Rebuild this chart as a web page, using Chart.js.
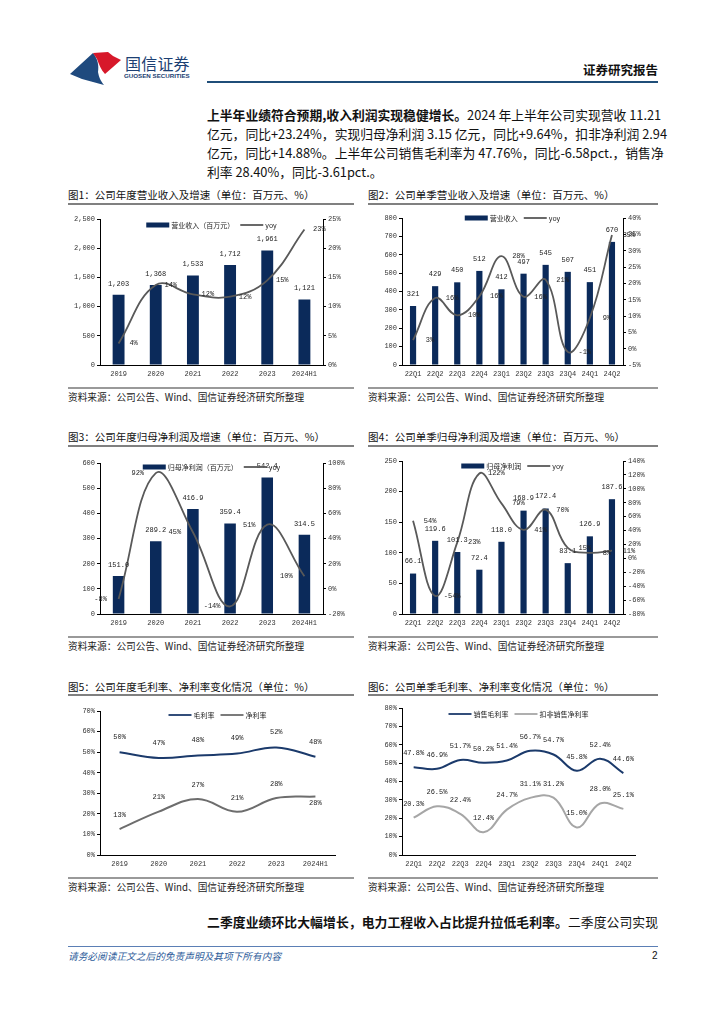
<!DOCTYPE html>
<html>
<head>
<meta charset="utf-8">
<script src="https://cdn.jsdelivr.net/npm/chart.js@4.4.1/dist/chart.umd.min.js"></script>
<style>
body { margin: 0; width: 724px; height: 1024px; position: relative; overflow: hidden; background: #fff; font-family: "Noto Sans CJK SC", sans-serif; color: #111; }
.t { position: absolute; white-space: nowrap; }
.rule { position: absolute; }
canvas { position: absolute; }
.pl { position: absolute; left: 207px; width: 451px; font-size: 12.8px; line-height: 19px; text-align: justify; text-align-last: justify; white-space: nowrap; }
.title { position: absolute; font-size: 10.5px; line-height: 12px; white-space: nowrap; color: #111; }
.src { position: absolute; font-size: 9.7px; line-height: 11px; white-space: nowrap; color: #222; }
</style>
</head>
<body>

<!-- header -->
<svg class="t" style="left:0;top:0" width="724" height="100">
  <path d="M70,74 L93,53 C98,59 99,66 98,72 C99,77 100,80 104,85 L82,79 Z" fill="#1f4a7e"/>
  <path d="M93,53 L108,52 L113,56 L121,60 L105,74 C101,70 99,64 97,59 Z" fill="#d7182a"/>
</svg>
<div class="t" style="left:125px;top:55px;font-size:16px;line-height:16px;color:#1c3f73;letter-spacing:0.2px">国信证券</div>
<div class="t" style="left:124px;top:72px;font-family:'Liberation Sans';font-weight:bold;font-size:6.2px;line-height:8px;color:#1c3f73">GUOSEN SECURITIES</div>
<div class="t" style="right:66px;top:63px;font-size:12.5px;line-height:14px;font-weight:bold">证券研究报告</div>
<div class="rule" style="left:207px;top:81px;width:451px;height:2px;background:#1f4e79"></div>

<!-- paragraph -->
<div class="pl" style="top:105px"><b>上半年业绩符合预期,收入利润实现稳健增长。</b>2024 年上半年公司实现营收 11.21</div>
<div class="pl" style="top:124px">亿元，同比+23.24%，实现归母净利润 3.15 亿元，同比+9.64%，扣非净利润 2.94</div>
<div class="pl" style="top:143px">亿元，同比+14.88%。上半年公司销售毛利率为 47.76%，同比-6.58pct.，销售净</div>
<div class="pl" style="top:162px;text-align-last:left">利率 28.40%，同比-3.61pct.。</div>

<!-- row 1 -->
<div class="title" style="left:68px;top:189px">图1：公司年度营业收入及增速（单位：百万元、%）</div>
<div class="rule" style="left:68px;top:203px;width:286px;height:1.5px;background:#808080"></div>
<div class="title" style="left:368px;top:189px">图2：公司单季营业收入及增速（单位：百万元、%）</div>
<div class="rule" style="left:368px;top:203px;width:290px;height:1.5px;background:#808080"></div>
<canvas id="c1" width="300" height="180" style="left:60px;top:205px"></canvas>
<canvas id="c2" width="300" height="180" style="left:360px;top:205px"></canvas>
<div class="rule" style="left:68px;top:387px;width:286px;height:1.5px;background:#999"></div>
<div class="rule" style="left:368px;top:387px;width:290px;height:1.5px;background:#999"></div>
<div class="src" style="left:68px;top:392px">资料来源：公司公告、Wind、国信证券经济研究所整理</div>
<div class="src" style="left:368px;top:392px">资料来源：公司公告、Wind、国信证券经济研究所整理</div>

<!-- row 2 -->
<div class="title" style="left:68px;top:431px">图3：公司年度归母净利润及增速（单位：百万元、%）</div>
<div class="rule" style="left:68px;top:445px;width:286px;height:1.5px;background:#808080"></div>
<div class="title" style="left:368px;top:431px">图4：公司单季归母净利润及增速（单位：百万元、%）</div>
<div class="rule" style="left:368px;top:445px;width:290px;height:1.5px;background:#808080"></div>
<canvas id="c3" width="300" height="190" style="left:60px;top:445px"></canvas>
<canvas id="c4" width="300" height="190" style="left:360px;top:445px"></canvas>
<div class="rule" style="left:68px;top:636px;width:286px;height:1.5px;background:#999"></div>
<div class="rule" style="left:368px;top:636px;width:290px;height:1.5px;background:#999"></div>
<div class="src" style="left:68px;top:641px">资料来源：公司公告、Wind、国信证券经济研究所整理</div>
<div class="src" style="left:368px;top:641px">资料来源：公司公告、Wind、国信证券经济研究所整理</div>

<!-- row 3 -->
<div class="title" style="left:68px;top:681px">图5：公司年度毛利率、净利率变化情况（单位：%）</div>
<div class="rule" style="left:68px;top:694px;width:286px;height:1.5px;background:#808080"></div>
<div class="title" style="left:368px;top:681px">图6：公司单季毛利率、净利率变化情况（单位：%）</div>
<div class="rule" style="left:368px;top:694px;width:290px;height:1.5px;background:#808080"></div>
<canvas id="c5" width="300" height="180" style="left:60px;top:695px"></canvas>
<canvas id="c6" width="300" height="180" style="left:360px;top:695px"></canvas>
<div class="rule" style="left:68px;top:877px;width:286px;height:1.5px;background:#999"></div>
<div class="rule" style="left:368px;top:877px;width:290px;height:1.5px;background:#999"></div>
<div class="src" style="left:68px;top:882px">资料来源：公司公告、Wind、国信证券经济研究所整理</div>
<div class="src" style="left:368px;top:882px">资料来源：公司公告、Wind、国信证券经济研究所整理</div>

<!-- footer -->
<div class="pl" style="top:912px"><b>二季度业绩环比大幅增长，电力工程收入占比提升拉低毛利率。</b>二季度公司实现</div>
<div class="rule" style="left:68px;top:946px;width:590px;height:1px;background:#5b7fb5"></div>
<div class="t" style="left:68px;top:950px;font-size:9.7px;line-height:12px;font-style:italic;color:#2e5c9a">请务必阅读正文之后的免责声明及其项下所有内容</div>
<div class="t" style="left:652px;top:950px;font-size:10px;line-height:12px;font-family:'Liberation Sans'">2</div>

<script>
// ====================================================
// Data
// ====================================================
const yearLabels = ['2019', '2020', '2021', '2022', '2023', '2024H1'];
const quarterLabels = ['22Q1', '22Q2', '22Q3', '22Q4', '23Q1', '23Q2', '23Q3', '23Q4', '24Q1', '24Q2'];

const revenueYear = [1203, 1368, 1533, 1712, 1961, 1121];
const revenueYearYoy = [3.7, 13.7, 12.1, 11.7, 14.5, 23.2];

const revenueQuarter = [321, 429, 450, 512, 412, 497, 545, 507, 451, 670];
const revenueQuarterYoy = [2.6, 15.5, 10.2, 16.0, 28.3, 15.9, 21.1, -1.0, 9.4, 34.8];

const profitYear = [151.0, 289.2, 416.9, 359.4, 542.4, 314.5];
const profitYearYoy = [-8, 92, 45, -14, 51, 10];

const profitQuarter = [66.1, 119.6, 101.3, 72.4, 118.0, 168.9, 172.4, 83.1, 126.9, 187.6];
const profitQuarterYoy = [54, -54, 23, 122, 79, 41, 70, 15, 8, 11];

const grossYear = [50.0, 47.2, 48.4, 49.3, 52.3, 47.8];
const netYear = [12.6, 21.1, 27.2, 21.0, 27.7, 28.4];

const grossQuarter = [47.8, 46.9, 51.7, 50.2, 51.4, 56.7, 54.7, 45.8, 52.4, 44.6];
const netQuarter = [20.3, 26.5, 22.4, 12.4, 24.7, 31.1, 31.2, 15.0, 28.0, 25.1];

// ====================================================
// Styles
// ====================================================
const NAVY = '#0b2a5a';
const LINE_GREY = '#595959';
const TICK_FONT = { family: 'Liberation Mono', size: 7 };

const fmtComma = v => Number(v).toLocaleString('en-US');
const fmtPct = v => Math.round(v) + '%';
const fmtPct1 = v => v.toFixed(1) + '%';
const fmtDec1 = v => v.toFixed(1);
const fmtInt = v => String(v);

// labels + legend per canvas (kept out of Chart options so functions are not resolved as scriptable)
const labelConfigs = {};

const pageLabels = {
    id: 'pageLabels',
    afterDatasetsDraw(chart) {
        const cfg = labelConfigs[chart.canvas.id];
        if (!cfg) return;
        const ctx = chart.ctx;
        const area = chart.chartArea;
        ctx.save();
        ctx.textAlign = 'center';
        ctx.textBaseline = 'middle';
        ctx.font = '7px "Liberation Mono"';
        ctx.fillStyle = '#222';
        cfg.series.forEach(s => {
            const meta = chart.getDatasetMeta(s.index);
            const values = chart.data.datasets[s.index].data;
            meta.data.forEach((el, i) => {
                const dy = (s.below && s.below.indexOf(i) >= 0) ? s.belowDy : s.dy;
                ctx.fillText(s.format(values[i]), el.x + s.dx, el.y + dy);
            });
        });

        // legend drawn inside the plot, centred
        ctx.font = '7px "Noto Sans CJK SC"';
        const sw = 23;
        let total = 0;
        cfg.legend.forEach(it => {
            it.w = ctx.measureText(it.text).width;
            total += sw + 2 + it.w;
        });
        total += 6 * (cfg.legend.length - 1);
        let x = (area.left + area.right) / 2 - total / 2;
        const y = area.top + cfg.legendDy;
        ctx.textAlign = 'left';
        cfg.legend.forEach(it => {
            if (it.kind === 'bar') {
                ctx.fillStyle = it.color;
                ctx.fillRect(x, y - 2.5, sw, 5);
            } else {
                ctx.strokeStyle = it.color;
                ctx.lineWidth = 1.8;
                ctx.beginPath();
                ctx.moveTo(x, y);
                ctx.lineTo(x + sw, y);
                ctx.stroke();
            }
            x += sw + 2;
            ctx.fillStyle = '#222';
            ctx.fillText(it.text, x, y);
            x += it.w + 6;
        });
        ctx.restore();
    }
};
Chart.register(pageLabels);

// ====================================================
// Axis helpers
// ====================================================
function valueAxis(pos, width, min, max, step, fmt) {
    return {
        type: 'linear',
        position: pos,
        min: min,
        max: max,
        afterFit: function (scale) { scale.width = width; },
        ticks: { stepSize: step, font: TICK_FONT, color: '#333', padding: 2, callback: fmt },
        grid: { drawOnChartArea: false, tickLength: 3, color: '#000', lineWidth: 1 },
        border: { color: '#000', width: 1 }
    };
}

function categoryAxis(height) {
    return {
        type: 'category',
        offset: true,
        afterFit: function (scale) { scale.height = height; },
        ticks: { font: TICK_FONT, color: '#333', padding: 5, maxRotation: 0, autoSkip: false },
        grid: { display: false, drawTicks: false },
        border: { color: '#000', width: 1 }
    };
}

function baseOptions(top, right, scales) {
    return {
        responsive: false,
        animation: false,
        layout: { padding: { top: top, right: right, left: 0, bottom: 0 } },
        plugins: { legend: { display: false }, tooltip: { enabled: false } },
        scales: scales
    };
}

function barLineChart(id, labels, bars, line, barPct, geo, axes) {
    return new Chart(document.getElementById(id), {
        type: 'bar',
        data: {
            labels: labels,
            datasets: [
                { type: 'bar', data: bars, yAxisID: 'y', backgroundColor: NAVY,
                  barPercentage: barPct, categoryPercentage: 1, order: 1 },
                { type: 'line', data: line, yAxisID: 'y1', borderColor: LINE_GREY,
                  borderWidth: 1.8, tension: 0.4, pointRadius: 0, order: 0 }
            ]
        },
        options: baseOptions(geo.top, 0, {
            x: categoryAxis(geo.xh),
            y: valueAxis('left', geo.lw, axes[0], axes[1], axes[2], axes[3]),
            y1: valueAxis('right', geo.rw, axes[4], axes[5], axes[6], fmtPct)
        })
    });
}

function twoLineChart(id, labels, a, b, colors, geo, maxY) {
    return new Chart(document.getElementById(id), {
        type: 'line',
        data: {
            labels: labels,
            datasets: [
                { data: a, borderColor: colors[0], borderWidth: 2, tension: 0.4, pointRadius: 0 },
                { data: b, borderColor: colors[1], borderWidth: 2, tension: 0.4, pointRadius: 0 }
            ]
        },
        options: baseOptions(geo.top, geo.pr, {
            x: categoryAxis(geo.xh),
            y: valueAxis('left', geo.lw, 0, maxY, 10, fmtPct)
        })
    });
}

// ====================================================
// Charts
// ====================================================
labelConfigs.c1 = {
    series: [
        { index: 0, format: fmtComma, dx: 0, dy: -11 },
        { index: 1, format: fmtPct, dx: 15, dy: 0 }
    ],
    legend: [
        { kind: 'bar', color: NAVY, text: '营业收入（百万元）' },
        { kind: 'line', color: LINE_GREY, text: 'yoy' }
    ],
    legendDy: 6
};
barLineChart('c1', yearLabels, revenueYear, revenueYearYoy, 0.32,
    { top: 14, xh: 20, lw: 40, rw: 37 }, [0, 2500, 500, fmtComma, 0, 25, 5]);

labelConfigs.c2 = {
    series: [
        { index: 0, format: fmtInt, dx: 0, dy: -12 },
        { index: 1, format: fmtPct, dx: 17, dy: 0 }
    ],
    legend: [
        { kind: 'bar', color: NAVY, text: '营业收入' },
        { kind: 'line', color: LINE_GREY, text: 'yoy' }
    ],
    legendDy: 0
};
barLineChart('c2', quarterLabels, revenueQuarter, revenueQuarterYoy, 0.28,
    { top: 13, xh: 20, lw: 42, rw: 37 }, [0, 800, 100, fmtInt, -5, 40, 5]);

labelConfigs.c3 = {
    series: [
        { index: 0, format: fmtDec1, dx: 0, dy: -11 },
        { index: 1, format: fmtPct, dx: -18, dy: 0 }
    ],
    legend: [
        { kind: 'bar', color: NAVY, text: '归母净利润（百万元）' },
        { kind: 'line', color: LINE_GREY, text: 'yoy' }
    ],
    legendDy: 4
};
barLineChart('c3', yearLabels, profitYear, profitYearYoy, 0.31,
    { top: 18, xh: 21, lw: 40, rw: 37 }, [0, 600, 100, fmtInt, -20, 100, 20]);

labelConfigs.c4 = {
    series: [
        { index: 0, format: fmtDec1, dx: 0, dy: -12 },
        { index: 1, format: fmtPct, dx: 17, dy: 0 }
    ],
    legend: [
        { kind: 'bar', color: NAVY, text: '归母净利润' },
        { kind: 'line', color: LINE_GREY, text: 'yoy' }
    ],
    legendDy: 5
};
barLineChart('c4', quarterLabels, profitQuarter, profitQuarterYoy, 0.28,
    { top: 16, xh: 21, lw: 42, rw: 37 }, [0, 250, 50, fmtInt, -80, 140, 20]);

labelConfigs.c5 = {
    series: [
        { index: 0, format: fmtPct, dx: 0, dy: -15 },
        { index: 1, format: fmtPct, dx: 0, dy: -14, below: [5], belowDy: 7 }
    ],
    legend: [
        { kind: 'line', color: '#1b3a6b', text: '毛利率' },
        { kind: 'line', color: '#6d6d6d', text: '净利率' }
    ],
    legendDy: 4
};
twoLineChart('c5', yearLabels, grossYear, netYear, ['#1b3a6b', '#6d6d6d'],
    { top: 16, xh: 20, lw: 40, pr: 25 }, 70);

labelConfigs.c6 = {
    series: [
        { index: 0, format: fmtPct1, dx: 0, dy: -14 },
        { index: 1, format: fmtPct1, dx: 0, dy: -14 }
    ],
    legend: [
        { kind: 'line', color: '#1b3a6b', text: '销售毛利率' },
        { kind: 'line', color: '#a6a6a6', text: '扣非销售净利率' }
    ],
    legendDy: 6
};
twoLineChart('c6', quarterLabels, grossQuarter, netQuarter, ['#1b3a6b', '#a6a6a6'],
    { top: 13, xh: 20, lw: 42, pr: 25 }, 80);
</script>
</body>
</html>
